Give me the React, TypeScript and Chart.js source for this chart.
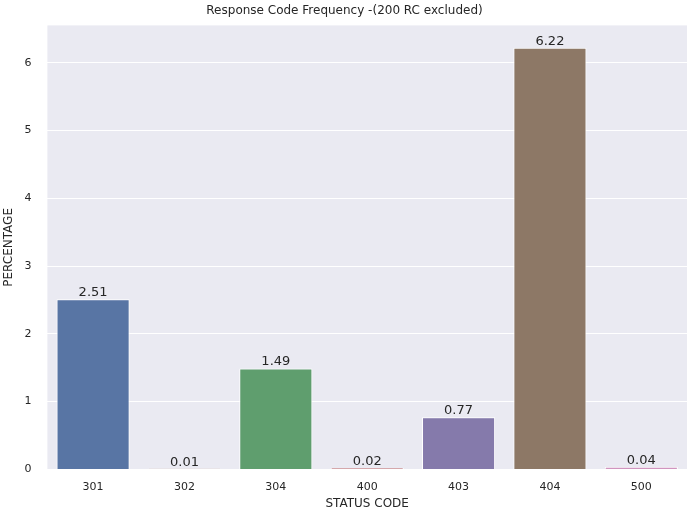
import { useEffect, useRef } from "react";
import Chart from "chart.js/auto";

const codes = ["301", "302", "304", "400", "403", "404", "500"];
const percentages = [2.51, 0.01, 1.49, 0.02, 0.77, 6.22, 0.04];
const barColors = ["#5875a4", "#cc8963", "#5f9e6e", "#b55d60", "#857aab", "#8d7866", "#d095bf"];

const bgPlugin = {
  id: "bgPlugin",
  beforeDraw(chart: any) {
    const { ctx, chartArea: a } = chart;
    ctx.save();
    ctx.fillStyle = "#eaeaf2";
    ctx.fillRect(a.left, a.top, a.right - a.left, a.bottom - a.top);
    ctx.restore();
  },
};

const labelPlugin = {
  id: "labelPlugin",
  afterDatasetsDraw(chart: any) {
    const { ctx } = chart;
    const meta = chart.getDatasetMeta(0);
    ctx.save();
    ctx.fillStyle = "#262626";
    ctx.font = "13px 'DejaVu Sans'";
    ctx.textAlign = "center";
    ctx.textBaseline = "bottom";
    meta.data.forEach((bar: any, i: number) => {
      ctx.fillText(percentages[i].toFixed(2), bar.x, bar.y);
    });
    ctx.restore();
  },
};

export default function App() {
  const canvasRef = useRef<HTMLCanvasElement | null>(null);

  useEffect(() => {
    const canvas = canvasRef.current;
    if (!canvas) return;
    const font = { family: "'DejaVu Sans'", size: 11 };
    const chart = new Chart(canvas, {
      type: "bar",
      data: {
        labels: codes,
        datasets: [
          {
            data: percentages,
            backgroundColor: barColors,
            borderColor: "#ffffff",
            borderWidth: 1,
            categoryPercentage: 1,
            barPercentage: 0.8,
          },
        ],
      },
      options: {
        animation: false,
        responsive: false,
        layout: { padding: { right: 10, top: 2, left: 2 } },
        plugins: {
          legend: { display: false },
          tooltip: { enabled: false },
          title: {
            display: true,
            text: "Response Code Frequency -(200 RC excluded)",
            color: "#262626",
            font: { family: "'DejaVu Sans'", size: 12, weight: "normal" },
            padding: { top: 2, bottom: 7 },
          },
        },
        scales: {
          x: {
            grid: { display: false },
            border: { display: false },
            ticks: { color: "#262626", font },
            title: { display: true, text: "STATUS CODE", color: "#262626", font: { family: "'DejaVu Sans'", size: 12 }, padding: 0 },
          },
          y: {
            min: 0,
            max: 6.55,
            grid: { color: "#ffffff", lineWidth: 1 },
            border: { display: false },
            ticks: { stepSize: 1, color: "#262626", font, padding: 8 },
            afterBuildTicks: (axis: any) => {
              axis.ticks = [0, 1, 2, 3, 4, 5, 6].map((v) => ({ value: v }));
            },
            title: { display: true, text: "PERCENTAGE", color: "#262626", font: { family: "'DejaVu Sans'", size: 12 }, padding: 0 },
          },
        },
      },
      plugins: [bgPlugin, labelPlugin],
    });
    return () => chart.destroy();
  }, []);

  return (
    <div style={{ position: "absolute", left: 0, top: 0, width: 697, height: 511, background: "#fff" }}>
      <canvas ref={canvasRef} width={697} height={511} />
    </div>
  );
}
